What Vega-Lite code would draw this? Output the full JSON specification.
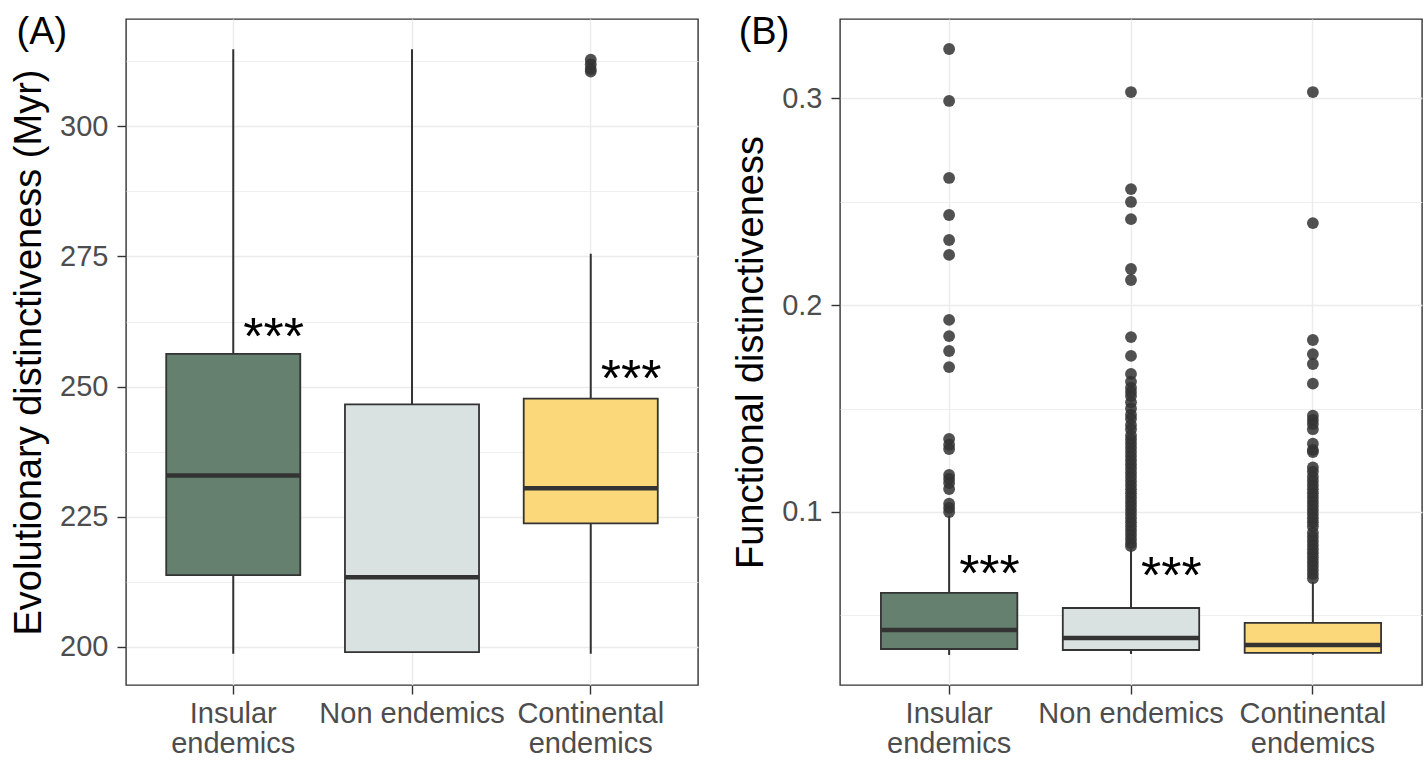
{
  "$schema": "https://vega.github.io/schema/vega-lite/v6.json",
  "background": "white",
  "padding": {"left": 9, "top": 13, "right": 0, "bottom": 0},
  "spacing": 142,
  "bounds": "flush",
  "config": {
    "font": "Liberation Sans",
    "view": {"stroke": "#333333", "strokeWidth": 1.4},
    "axis": {
      "domain": false,
      "gridColor": "#ebebeb",
      "tickColor": "#333333",
      "tickSize": 9,
      "tickWidth": 1.4,
      "labelColor": "#4d4d4d",
      "labelFontSize": 29,
      "labelFont": "Liberation Sans",
      "labelLimit": 0,
      "titleFont": "Liberation Sans",
      "titleFontSize": 38,
      "titleFontWeight": "normal",
      "titleColor": "#000000"
    },
    "title": {"fontSize": 38, "fontWeight": "normal", "anchor": "start", "frame": "bounds", "offset": -33, "dx": 6, "color": "#000000", "font": "Liberation Sans"}
  },
  "datasets": {
    "boxA": [
      {"group": "Insular endemics", "lower": 198.7, "q1": 213.8, "median": 232.95, "q3": 256.3, "upper": 314.8},
      {"group": "Non endemics", "lower": 199.0, "q1": 199.0, "median": 213.4, "q3": 246.6, "upper": 314.8},
      {"group": "Continental endemics", "lower": 198.7, "q1": 223.75, "median": 230.5, "q3": 247.7, "upper": 275.5}
    ],
    "outA": [
      {"group": "Continental endemics", "value": 312.8},
      {"group": "Continental endemics", "value": 311.9},
      {"group": "Continental endemics", "value": 311.0},
      {"group": "Continental endemics", "value": 310.5}
    ],
    "sigA": [
      {"group": "Insular endemics", "value": 260.9, "label": "***"},
      {"group": "Continental endemics", "value": 252.9, "label": "***"}
    ],
    "boxB": [
      {"group": "Insular endemics", "lower": 0.0309, "q1": 0.0338, "median": 0.043, "q3": 0.0609, "upper": 0.098},
      {"group": "Non endemics", "lower": 0.0314, "q1": 0.0333, "median": 0.0391, "q3": 0.0536, "upper": 0.082},
      {"group": "Continental endemics", "lower": 0.031, "q1": 0.0319, "median": 0.0357, "q3": 0.0464, "upper": 0.0662}
    ],
    "outB": [
      {"group": "Insular endemics", "value": 0.3237},
      {"group": "Insular endemics", "value": 0.2986},
      {"group": "Insular endemics", "value": 0.2614},
      {"group": "Insular endemics", "value": 0.2435},
      {"group": "Insular endemics", "value": 0.2314},
      {"group": "Insular endemics", "value": 0.2242},
      {"group": "Insular endemics", "value": 0.1928},
      {"group": "Insular endemics", "value": 0.185},
      {"group": "Insular endemics", "value": 0.1778},
      {"group": "Insular endemics", "value": 0.170},
      {"group": "Insular endemics", "value": 0.1353},
      {"group": "Insular endemics", "value": 0.1325},
      {"group": "Insular endemics", "value": 0.1304},
      {"group": "Insular endemics", "value": 0.1179},
      {"group": "Insular endemics", "value": 0.1160},
      {"group": "Insular endemics", "value": 0.1140},
      {"group": "Insular endemics", "value": 0.1111},
      {"group": "Insular endemics", "value": 0.1040},
      {"group": "Insular endemics", "value": 0.1020},
      {"group": "Insular endemics", "value": 0.1000},
      {"group": "Non endemics", "value": 0.3029},
      {"group": "Non endemics", "value": 0.256},
      {"group": "Non endemics", "value": 0.2498},
      {"group": "Non endemics", "value": 0.2415},
      {"group": "Non endemics", "value": 0.2174},
      {"group": "Non endemics", "value": 0.2121},
      {"group": "Non endemics", "value": 0.1845},
      {"group": "Non endemics", "value": 0.1754},
      {"group": "Non endemics", "value": 0.1667},
      {"group": "Non endemics", "value": 0.163},
      {"group": "Non endemics", "value": 0.160},
      {"group": "Non endemics", "value": 0.158},
      {"group": "Non endemics", "value": 0.156},
      {"group": "Non endemics", "value": 0.153},
      {"group": "Non endemics", "value": 0.150},
      {"group": "Non endemics", "value": 0.147},
      {"group": "Non endemics", "value": 0.145},
      {"group": "Non endemics", "value": 0.142},
      {"group": "Non endemics", "value": 0.140},
      {"group": "Non endemics", "value": 0.137},
      {"group": "Non endemics", "value": 0.135},
      {"group": "Non endemics", "value": 0.133},
      {"group": "Non endemics", "value": 0.131},
      {"group": "Non endemics", "value": 0.129},
      {"group": "Non endemics", "value": 0.127},
      {"group": "Non endemics", "value": 0.125},
      {"group": "Non endemics", "value": 0.123},
      {"group": "Non endemics", "value": 0.121},
      {"group": "Non endemics", "value": 0.119},
      {"group": "Non endemics", "value": 0.117},
      {"group": "Non endemics", "value": 0.115},
      {"group": "Non endemics", "value": 0.113},
      {"group": "Non endemics", "value": 0.111},
      {"group": "Non endemics", "value": 0.109},
      {"group": "Non endemics", "value": 0.107},
      {"group": "Non endemics", "value": 0.105},
      {"group": "Non endemics", "value": 0.103},
      {"group": "Non endemics", "value": 0.101},
      {"group": "Non endemics", "value": 0.099},
      {"group": "Non endemics", "value": 0.097},
      {"group": "Non endemics", "value": 0.095},
      {"group": "Non endemics", "value": 0.093},
      {"group": "Non endemics", "value": 0.091},
      {"group": "Non endemics", "value": 0.089},
      {"group": "Non endemics", "value": 0.087},
      {"group": "Non endemics", "value": 0.085},
      {"group": "Non endemics", "value": 0.0835},
      {"group": "Continental endemics", "value": 0.3029},
      {"group": "Continental endemics", "value": 0.2396},
      {"group": "Continental endemics", "value": 0.1831},
      {"group": "Continental endemics", "value": 0.1763},
      {"group": "Continental endemics", "value": 0.1715},
      {"group": "Continental endemics", "value": 0.1620},
      {"group": "Continental endemics", "value": 0.1465},
      {"group": "Continental endemics", "value": 0.1445},
      {"group": "Continental endemics", "value": 0.1425},
      {"group": "Continental endemics", "value": 0.1400},
      {"group": "Continental endemics", "value": 0.1330},
      {"group": "Continental endemics", "value": 0.1300},
      {"group": "Continental endemics", "value": 0.1290},
      {"group": "Continental endemics", "value": 0.1215},
      {"group": "Continental endemics", "value": 0.1195},
      {"group": "Continental endemics", "value": 0.117},
      {"group": "Continental endemics", "value": 0.115},
      {"group": "Continental endemics", "value": 0.113},
      {"group": "Continental endemics", "value": 0.111},
      {"group": "Continental endemics", "value": 0.109},
      {"group": "Continental endemics", "value": 0.107},
      {"group": "Continental endemics", "value": 0.105},
      {"group": "Continental endemics", "value": 0.103},
      {"group": "Continental endemics", "value": 0.101},
      {"group": "Continental endemics", "value": 0.099},
      {"group": "Continental endemics", "value": 0.097},
      {"group": "Continental endemics", "value": 0.095},
      {"group": "Continental endemics", "value": 0.093},
      {"group": "Continental endemics", "value": 0.090},
      {"group": "Continental endemics", "value": 0.088},
      {"group": "Continental endemics", "value": 0.086},
      {"group": "Continental endemics", "value": 0.084},
      {"group": "Continental endemics", "value": 0.082},
      {"group": "Continental endemics", "value": 0.080},
      {"group": "Continental endemics", "value": 0.078},
      {"group": "Continental endemics", "value": 0.076},
      {"group": "Continental endemics", "value": 0.074},
      {"group": "Continental endemics", "value": 0.072},
      {"group": "Continental endemics", "value": 0.070},
      {"group": "Continental endemics", "value": 0.068}
    ],
    "sigB": [
      {"group": "Insular endemics", "value": 0.0734, "label": "***"},
      {"group": "Non endemics", "value": 0.0725, "label": "***"}
    ]
  },
  "hconcat": [
    {
      "width": 572,
      "height": 666,
      "title": {"text": "(A)"},
      "encoding": {
        "x": {
          "field": "group", "type": "nominal",
          "scale": {"domain": ["Insular endemics", "Non endemics", "Continental endemics"], "paddingInner": 0.25, "paddingOuter": 0.225},
          "axis": {"title": null, "labelAngle": 0, "labelPadding": 5, "labelLineHeight": 30, "grid": true, "bandPosition": 0.5, "gridWidth": 1.4, "labelExpr": "datum.label == 'Non endemics' ? datum.label : split(datum.label, ' ')"}
        }
      },
      "layer": [
        {
          "data": {"name": "boxA"},
          "mark": {"type": "rule", "color": "#333333", "strokeWidth": 2},
          "encoding": {
            "y": {
              "field": "lower", "type": "quantitative",
              "scale": {"domain": [192.7, 320.6], "nice": false, "zero": false},
              "axis": {
                "title": "Evolutionary distinctiveness (Myr)",
                "titlePadding": 11,
                "labelPadding": 9,
                "values": [200, 212.5, 225, 237.5, 250, 262.5, 275, 287.5, 300, 312.5],
                "labelExpr": "datum.value % 25 === 0 ? datum.label : ''",
                "tickColor": {"condition": {"test": "datum.value % 25 !== 0", "value": "transparent"}, "value": "#333333"},
                "gridWidth": {"condition": {"test": "datum.value % 25 !== 0", "value": 0.8}, "value": 1.4}
              }
            },
            "y2": {"field": "upper"}
          }
        },
        {
          "data": {"name": "boxA"},
          "mark": {"type": "bar", "stroke": "#333333", "strokeWidth": 1.8},
          "encoding": {
            "y": {"field": "q1", "type": "quantitative"},
            "y2": {"field": "q3"},
            "fill": {"field": "group", "type": "nominal", "legend": null,
              "scale": {"domain": ["Insular endemics", "Non endemics", "Continental endemics"], "range": ["#66806f", "#d9e2e1", "#fbd879"]}}
          }
        },
        {
          "data": {"name": "boxA"},
          "mark": {"type": "tick", "color": "#333333", "thickness": 4.5, "size": 134, "opacity": 1},
          "encoding": {"y": {"field": "median", "type": "quantitative"}}
        },
        {
          "data": {"name": "outA"},
          "mark": {"type": "circle", "color": "#333333", "opacity": 0.85, "size": 140},
          "encoding": {"y": {"field": "value", "type": "quantitative"}}
        },
        {
          "data": {"name": "sigA"},
          "mark": {"type": "text", "align": "left", "baseline": "middle", "dx": 10, "dy": 8, "fontSize": 52, "font": "Liberation Sans", "color": "#000000"},
          "encoding": {"y": {"field": "value", "type": "quantitative"}, "text": {"field": "label"}}
        }
      ]
    },
    {
      "width": 582,
      "height": 666,
      "title": {"text": "(B)"},
      "encoding": {
        "x": {
          "field": "group", "type": "nominal",
          "scale": {"domain": ["Insular endemics", "Non endemics", "Continental endemics"], "paddingInner": 0.25, "paddingOuter": 0.225},
          "axis": {"title": null, "labelAngle": 0, "labelPadding": 5, "labelLineHeight": 30, "grid": true, "bandPosition": 0.5, "gridWidth": 1.4, "labelExpr": "datum.label == 'Non endemics' ? datum.label : split(datum.label, ' ')"}
        }
      },
      "layer": [
        {
          "data": {"name": "boxB"},
          "mark": {"type": "rule", "color": "#333333", "strokeWidth": 2},
          "encoding": {
            "y": {
              "field": "lower", "type": "quantitative",
              "scale": {"domain": [0.0164, 0.3382], "nice": false, "zero": false},
              "axis": {
                "title": "Functional distinctiveness",
                "titlePadding": 11,
                "labelPadding": 9,
                "values": [0.05, 0.1, 0.15, 0.2, 0.25, 0.3],
                "format": ".1f",
                "labelExpr": "abs(datum.value * 10 - round(datum.value * 10)) < 0.01 ? datum.label : ''",
                "tickColor": {"condition": {"test": "abs(datum.value * 10 - round(datum.value * 10)) > 0.01", "value": "transparent"}, "value": "#333333"},
                "gridWidth": {"condition": {"test": "abs(datum.value * 10 - round(datum.value * 10)) > 0.01", "value": 0.8}, "value": 1.4}
              }
            },
            "y2": {"field": "upper"}
          }
        },
        {
          "data": {"name": "boxB"},
          "mark": {"type": "bar", "stroke": "#333333", "strokeWidth": 1.8},
          "encoding": {
            "y": {"field": "q1", "type": "quantitative"},
            "y2": {"field": "q3"},
            "fill": {"field": "group", "type": "nominal", "legend": null,
              "scale": {"domain": ["Insular endemics", "Non endemics", "Continental endemics"], "range": ["#66806f", "#d9e2e1", "#fbd879"]}}
          }
        },
        {
          "data": {"name": "boxB"},
          "mark": {"type": "tick", "color": "#333333", "thickness": 4.5, "size": 136, "opacity": 1},
          "encoding": {"y": {"field": "median", "type": "quantitative"}}
        },
        {
          "data": {"name": "outB"},
          "mark": {"type": "circle", "color": "#333333", "opacity": 0.85, "size": 140},
          "encoding": {"y": {"field": "value", "type": "quantitative"}}
        },
        {
          "data": {"name": "sigB"},
          "mark": {"type": "text", "align": "left", "baseline": "middle", "dx": 10, "dy": 8, "fontSize": 52, "font": "Liberation Sans", "color": "#000000"},
          "encoding": {"y": {"field": "value", "type": "quantitative"}, "text": {"field": "label"}}
        }
      ]
    }
  ],
  "resolve": {"scale": {"y": "independent", "fill": "independent"}}
}
